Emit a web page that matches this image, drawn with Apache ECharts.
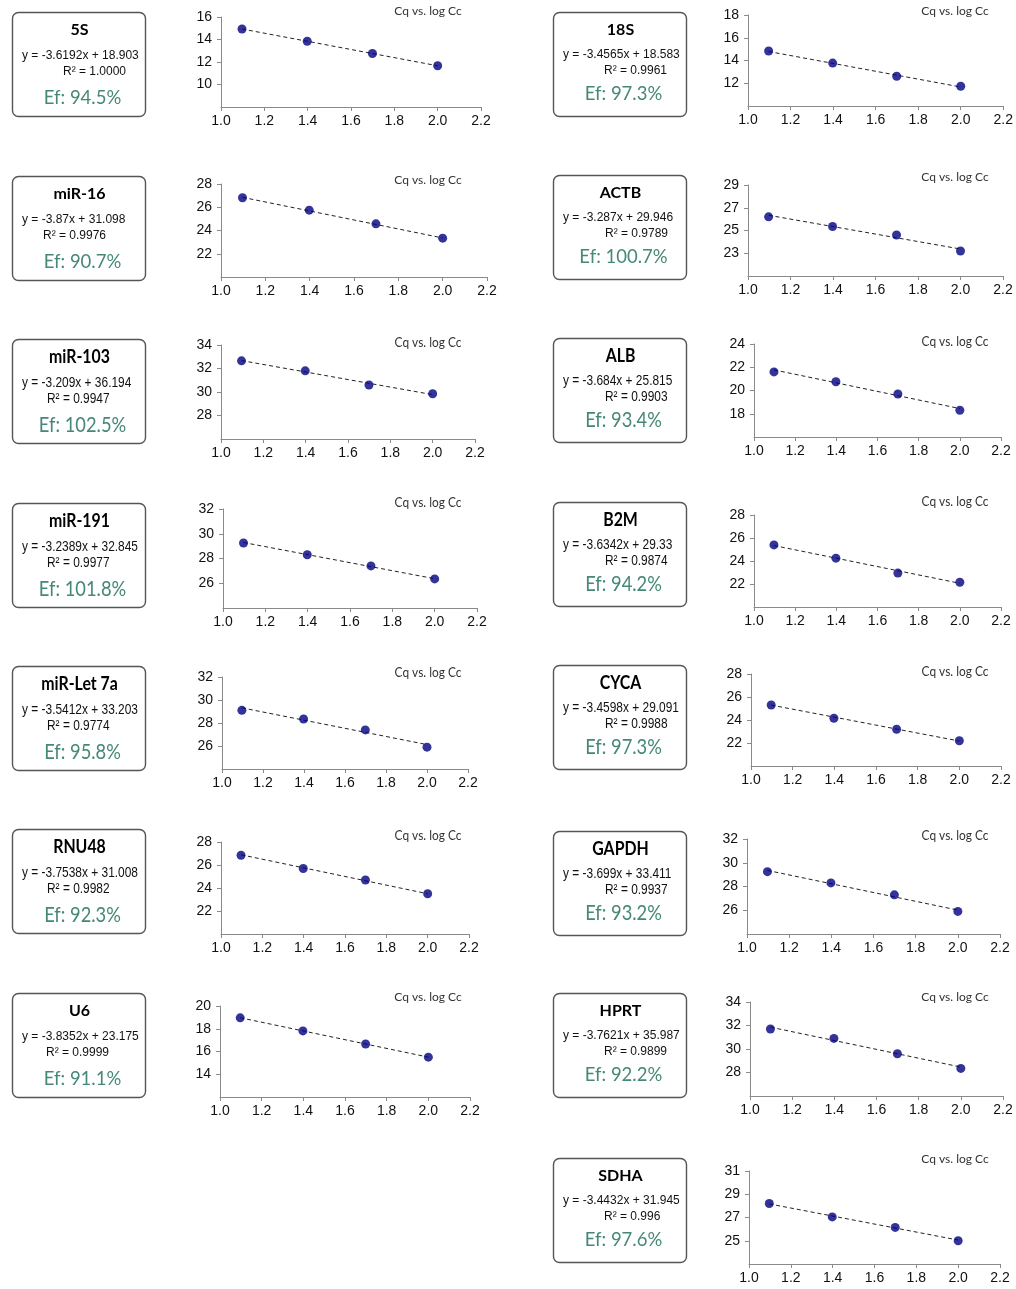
<!DOCTYPE html>
<html>
<head>
<meta charset="utf-8">
<script src="https://cdn.jsdelivr.net/npm/echarts@6/dist/echarts.min.js"></script>
<style>
  html, body { margin: 0; padding: 0; background: #ffffff; }
  #chart { width: 1016px; height: 1289px; }
</style>
</head>
<body>
<div id="chart"></div>
<script>
// ---- Data -------------------------------------------------------------
// log10 of the dilution-series concentrations (x of every standard curve)
const logCc = [1.097, 1.398, 1.699, 2.0];

const genes = ['5S', 'miR-16', 'miR-103', 'miR-191', 'miR-Let 7a', 'RNU48', 'U6',
               '18S', 'ACTB', 'ALB', 'B2M', 'CYCA', 'GAPDH', 'HPRT', 'SDHA'];

// linear fit Cq = slope * logCc + intercept
const slopes = [-3.6192, -3.87, -3.209, -3.2389, -3.5412, -3.7538, -3.8352,
                -3.4565, -3.287, -3.684, -3.6342, -3.4598, -3.699, -3.7621, -3.4432];
const intercepts = [18.903, 31.098, 36.194, 32.845, 33.203, 31.008, 23.175,
                    18.583, 29.946, 25.815, 29.33, 29.091, 33.411, 35.987, 31.945];
const r2Values = ['1.0000', '0.9976', '0.9947', '0.9977', '0.9774', '0.9982', '0.9999',
                  '0.9961', '0.9789', '0.9903', '0.9874', '0.9988', '0.9937', '0.9899', '0.996'];
const efficiencies = ['94.5', '90.7', '102.5', '101.8', '95.8', '92.3', '91.1',
                      '97.3', '100.7', '93.4', '94.2', '97.3', '93.2', '92.2', '97.6'];

// measured Cq at each dilution
const cq5S       = [14.93, 13.84, 12.76, 11.67];
const cqMiR16    = [26.82, 25.75, 24.57, 23.34];
const cqMiR103   = [32.65, 31.80, 30.60, 29.85];
const cqMiR191   = [29.25, 28.30, 27.40, 26.35];
const cqMiRLet7a = [29.10, 28.35, 27.40, 25.90];
const cqRNU48    = [26.85, 25.70, 24.70, 23.50];
const cqU6       = [18.96, 17.81, 16.66, 15.50];
const cq18S      = [14.84, 13.77, 12.62, 11.74];
const cqACTB     = [26.20, 25.35, 24.60, 23.20];
const cqALB      = [21.60, 20.75, 19.70, 18.30];
const cqB2M      = [25.40, 24.25, 22.95, 22.15];
const cqCYCA     = [25.30, 24.15, 23.20, 22.20];
const cqGAPDH    = [29.25, 28.30, 27.30, 25.90];
const cqHPRT     = [31.70, 30.90, 29.60, 28.35];
const cqSDHA     = [28.20, 27.05, 26.15, 25.00];
const cqValues = [cq5S, cqMiR16, cqMiR103, cqMiR191, cqMiRLet7a, cqRNU48, cqU6,
                  cq18S, cqACTB, cqALB, cqB2M, cqCYCA, cqGAPDH, cqHPRT, cqSDHA];

// Cq axis ranges (step 2)
const yMin = [8, 20, 26, 24, 24, 20, 12, 10, 21, 16, 20, 20, 24, 26, 23];
const yMax = [16, 28, 34, 32, 32, 28, 20, 18, 29, 24, 28, 28, 32, 34, 31];

// x axis
const xMin = 1.0, xMax = 2.2, xStep = 0.2;
const yStep = 2;

// ---- Layout (pixels) ----------------------------------------------------
// info box top-left corners
const boxPos = [[12, 12], [12, 176], [12, 339], [12, 503], [12, 666], [12, 829], [12, 993],
                [553, 12], [553, 175], [553, 338], [553, 502], [553, 665], [553, 831], [553, 993], [553, 1158]];
// plot rectangles: [left, right, top, bottom]
const plotRect = [
  [221, 481, 17, 107], [221, 487, 184, 277], [221, 475, 345, 439], [223, 477, 509, 608],
  [222, 468, 677, 769], [221, 469, 842, 934], [220, 470, 1006, 1097],
  [748, 1004, 15, 106], [748, 1003, 185, 276], [754, 1001, 344, 437], [754, 1001, 515, 607],
  [751, 1001, 674, 766], [747, 1000, 839, 934], [750, 1003, 1002, 1096], [749, 1000, 1171, 1264]
];
const titlePos = [[428, 11], [428, 180], [428, 342], [428, 502], [428, 672], [428, 835], [428, 997],
                  [955, 11], [955, 177], [955, 341], [955, 501], [955, 671], [955, 835], [955, 997], [955, 1159]];
const r2Indent = [51, 31, 35, 35, 35, 35, 34, 51, 52, 52, 52, 52, 52, 51, 51];
// rows 3-6 of the sheet use a condensed, taller lettering
const condensed = [false, false, true, true, true, true, false,
                   false, false, true, true, true, true, false, false];

const BOX_W = 133, BOX_H = 104;
const ARIAL = '"Liberation Sans", Arial, sans-serif';
const CALIBRI = 'Lato, "Open Sans", sans-serif';
const AXIS_COLOR = '#8a8a8a';

function textEl(x, y, text, size, family, weight, fill, align, narrow) {
  const s = narrow ? 1.18 : 1;
  return {
    type: 'text', x: x, y: y, z: 20,
    scaleX: narrow ? 0.84 : 1,
    style: {
      text: text,
      font: (weight ? weight + ' ' : '') + (size * s).toFixed(1) + 'px ' + family,
      fill: fill,
      align: align, textAlign: align,
      verticalAlign: 'middle', textVerticalAlign: 'middle'
    }
  };
}

const grids = [], xAxes = [], yAxes = [], series = [], elements = [];

genes.forEach(function (gene, i) {
  const r = plotRect[i];
  const narrow = condensed[i];
  const rightCol = i >= 7;

  grids.push({ left: r[0], top: r[2], width: r[1] - r[0], height: r[3] - r[2], containLabel: false });

  xAxes.push({
    type: 'value', gridIndex: i, min: xMin, max: xMax, interval: xStep,
    axisLine: { show: true, onZero: false, lineStyle: { color: AXIS_COLOR, width: 1 } },
    axisTick: { show: true, length: 4, lineStyle: { color: AXIS_COLOR } },
    splitLine: { show: false },
    axisLabel: {
      formatter: function (v) { return v.toFixed(1); },
      color: '#111', fontSize: 14, fontFamily: ARIAL, margin: 7
    }
  });

  yAxes.push({
    type: 'value', gridIndex: i, min: yMin[i], max: yMax[i], interval: yStep,
    axisLine: { show: true, onZero: false, lineStyle: { color: AXIS_COLOR, width: 1 } },
    axisTick: { show: true, length: 4, lineStyle: { color: AXIS_COLOR } },
    splitLine: { show: false },
    axisLabel: {
      showMinLabel: false,
      color: '#111', fontSize: 14, fontFamily: ARIAL, margin: 9
    }
  });

  // fitted standard curve over the measured range
  const x0 = logCc[0], x1 = logCc[logCc.length - 1];
  series.push({
    type: 'line', xAxisIndex: i, yAxisIndex: i, z: 2,
    symbol: 'none', silent: true,
    lineStyle: { color: '#222', width: 1, type: [4, 3] },
    data: [[x0, slopes[i] * x0 + intercepts[i]], [x1, slopes[i] * x1 + intercepts[i]]]
  });

  series.push({
    type: 'scatter', xAxisIndex: i, yAxisIndex: i, z: 3,
    symbol: 'circle', symbolSize: 9,
    itemStyle: { color: '#000080' },
    data: logCc.map(function (x, k) { return [x, cqValues[i][k]]; })
  });

  // info box
  const bx = boxPos[i][0], by = boxPos[i][1];
  const cx = bx + BOX_W / 2;
  const off = rightCol ? [18, 43, 59, 82] : [18, 44, 60, 86];
  elements.push({
    type: 'rect', z: 10,
    shape: { x: bx + 0.5, y: by + 0.5, width: BOX_W, height: BOX_H, r: 6 },
    style: { fill: '#ffffff', stroke: '#555555', lineWidth: 1.4 }
  });
  elements.push(textEl(cx + 1, by + off[0], gene, 16, CALIBRI, 'bold', '#000', 'center', narrow));
  elements.push(textEl(bx + 10, by + off[1], 'y = ' + slopes[i] + 'x + ' + intercepts[i],
                       12, ARIAL, '', '#111', 'left', narrow));
  elements.push(textEl(bx + r2Indent[i], by + off[2], 'R\u00B2 = ' + r2Values[i],
                       12, ARIAL, '', '#111', 'left', narrow));
  elements.push(textEl(cx + 4, by + off[3], 'Ef: ' + efficiencies[i] + '%',
                       18.5, CALIBRI, '', '#468878', 'center', narrow));

  // chart caption
  elements.push(textEl(titlePos[i][0], titlePos[i][1], 'Cq vs. log Cc',
                       12, CALIBRI, '', '#333', 'center', narrow));
});

const chart = echarts.init(document.getElementById('chart'), null, { renderer: 'canvas' });
chart.setOption({
  animation: false,
  backgroundColor: '#ffffff',
  grid: grids,
  xAxis: xAxes,
  yAxis: yAxes,
  series: series,
  graphic: { elements: elements }
});
</script>
</body>
</html>
